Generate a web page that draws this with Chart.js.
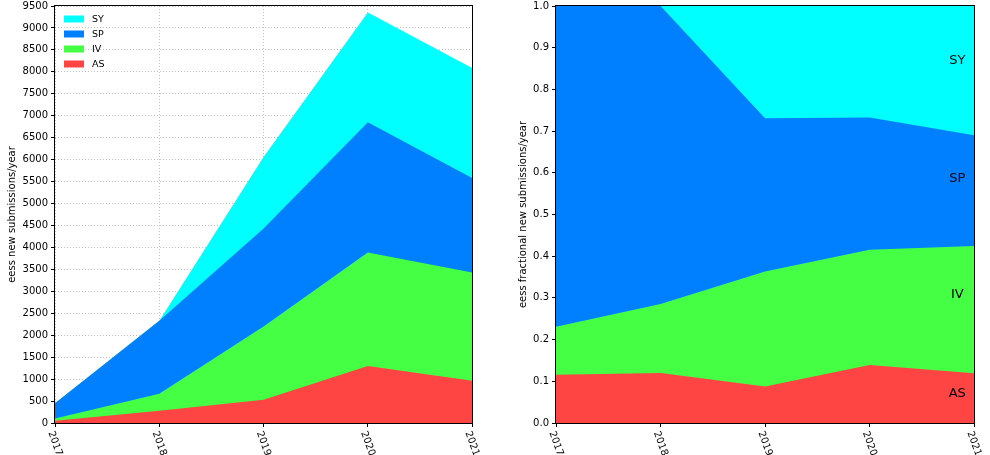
<!DOCTYPE html>
<html><head><meta charset="utf-8">
<script src="https://cdn.jsdelivr.net/npm/chart.js@4.4.1/dist/chart.umd.min.js"></script>
<style>
html,body{margin:0;padding:0;background:#fff;width:990px;height:455px;overflow:hidden}
#c1{position:absolute;left:0;top:0}
#c2{position:absolute;left:495px;top:0}
</style></head><body>
<canvas id="c1" width="495" height="455"></canvas>
<canvas id="c2" width="495" height="455"></canvas>
<script>
// ---- data ----
const years = ['2017', '2018', '2019', '2020', '2021'];
const seriesNames = ['AS', 'IV', 'SP', 'SY'];
const AS = [52, 280, 530, 1300, 965];
const IV = [52, 385, 1670, 2585, 2465];
const SP = [346, 1665, 2230, 2965, 2150];
const SY = [0, 0, 1630, 2500, 2505];
const leftYMax = 9500;
const leftYStep = 500;
const rightYMax = 1.0;
const rightYStep = 0.1;
const leftYTitle = 'eess new submissions/year';
const rightYTitle = 'eess fractional new submissions/year';
// in-chart band labels on the right panel (data coordinates: x index, y fraction)
const bandLabelX = [3.84, 3.84, 3.84, 3.84];
const bandLabelY = [0.070, 0.307, 0.585, 0.868];

const seriesValues = [AS, IV, SP, SY];
const seriesColors = ['#ff4444', '#44ff44', '#0080ff', '#00ffff'];
const totals = years.map((_, i) => seriesValues.reduce((s, arr) => s + arr[i], 0));
const fractions = seriesValues.map(arr => arr.map((v, i) => v / totals[i]));

Chart.defaults.font.family = "'DejaVu Sans', sans-serif";
Chart.defaults.font.size = 10;
Chart.defaults.color = '#000';

const FONT = "'DejaVu Sans', sans-serif";

function makeDatasets(values) {
  return seriesNames.map((name, k) => ({
    label: name,
    data: values[k],
    backgroundColor: seriesColors[k],
    borderColor: seriesColors[k],
    borderWidth: 0,
    pointRadius: 0,
    pointHoverRadius: 0,
    fill: 'origin',
    tension: 0
  }));
}

const framePlugin = {
  id: 'frame',
  afterDraw(chart) {
    const {ctx, chartArea: a} = chart;
    ctx.save();
    ctx.strokeStyle = '#000';
    ctx.lineWidth = 1;
    ctx.strokeRect(Math.round(a.left) - 0.5, Math.round(a.top) - 0.5,
      Math.round(a.right - a.left) + 1, Math.round(a.bottom - a.top) + 1);
    ctx.restore();
  }
};

const xLabelPlugin = {
  id: 'xlabels',
  afterDraw(chart) {
    const {ctx, chartArea: a} = chart;
    const xs = chart.scales.x;
    const th = 70 * Math.PI / 180;
    ctx.save();
    ctx.font = '10px ' + FONT;
    ctx.fillStyle = '#000';
    ctx.textAlign = 'center';
    ctx.textBaseline = 'middle';
    years.forEach((lab, i) => {
      const x = xs.getPixelForValue(i);
      const w = ctx.measureText(lab).width;
      const h = 10;
      const bh = w * Math.sin(th) + h * Math.cos(th);
      const cy = a.bottom + 3.5 + 3.5 + bh / 2;
      ctx.save();
      ctx.translate(x, cy);
      ctx.rotate(th);
      ctx.fillText(lab, 0, 0);
      ctx.restore();
    });
    ctx.restore();
  }
};

const legendPlugin = {
  id: 'mylegend',
  afterDraw(chart) {
    if (!chart.options.plugins.mylegend || !chart.options.plugins.mylegend.show) return;
    const {ctx, chartArea: a} = chart;
    ctx.save();
    ctx.font = '9.5px ' + FONT;
    ctx.textAlign = 'left';
    ctx.textBaseline = 'middle';
    const ds = chart.data.datasets.slice().reverse();
    ds.forEach((d, i) => {
      const cy = a.top + 13 + i * 15;
      ctx.fillStyle = d.backgroundColor;
      ctx.fillRect(a.left + 9, cy - 3.5, 20, 7);
      ctx.fillStyle = '#000';
      ctx.fillText(d.label, a.left + 37, cy + 0.5);
    });
    ctx.restore();
  }
};

const bandLabelPlugin = {
  id: 'bandlabels',
  afterDraw(chart) {
    if (!chart.options.plugins.bandlabels || !chart.options.plugins.bandlabels.show) return;
    const {ctx} = chart;
    const xs = chart.scales.x, ys = chart.scales.y;
    ctx.save();
    ctx.font = '13px ' + FONT;
    ctx.fillStyle = '#000';
    ctx.textAlign = 'center';
    ctx.textBaseline = 'middle';
    seriesNames.forEach((name, k) => {
      ctx.fillText(name, xs.getPixelForValue(bandLabelX[k]), ys.getPixelForValue(bandLabelY[k]));
    });
    ctx.restore();
  }
};

function makeChart(el, values, opts) {
  return new Chart(document.getElementById(el), {
    type: 'line',
    data: {labels: years, datasets: makeDatasets(values)},
    options: {
      responsive: false,
      animation: false,
      events: [],
      layout: {padding: {top: 6, right: opts.padRight, left: 0, bottom: 0}},
      plugins: {
        legend: {display: false},
        tooltip: {enabled: false},
        filler: {propagate: false},
        mylegend: {show: opts.legend},
        bandlabels: {show: opts.bandLabels}
      },
      scales: {
        x: {
          type: 'category',
          offset: false,
          z: opts.grid ? 1 : 0,
          ticks: {display: false},
          grid: {
            display: true,
            drawOnChartArea: opts.grid,
            color: '#b0b0b0',
            lineWidth: 0.8,
            drawTicks: true,
            tickLength: 4,
            tickColor: '#000',
            tickWidth: 1,
            tickBorderDash: []
          },
          border: {display: false, dash: [1, 2]},
          afterFit(s) { s.height = 32; s.paddingLeft = 0; s.paddingRight = 0; }
        },
        y: {
          type: 'linear',
          stacked: true,
          min: 0,
          max: opts.yMax,
          z: opts.grid ? 1 : 0,
          ticks: {
            stepSize: opts.yStep,
            autoSkip: false,
            padding: 3,
            color: '#000',
            font: {size: 10, family: FONT},
            callback: opts.fmt
          },
          grid: {
            display: true,
            drawOnChartArea: opts.grid,
            color: '#b0b0b0',
            lineWidth: 0.8,
            drawTicks: true,
            tickLength: 4,
            tickColor: '#000',
            tickWidth: 1,
            tickBorderDash: []
          },
          border: {display: false, dash: [1, 2]},
          title: {
            display: true,
            text: opts.title,
            color: '#000',
            font: {size: 10, family: FONT},
            padding: {top: opts.titlePad, bottom: 0}
          },
          afterFit(s) { s.width = opts.yWidth; s.paddingTop = 0; s.paddingBottom = 0; }
        }
      }
    },
    plugins: [xLabelPlugin, framePlugin, legendPlugin, bandLabelPlugin]
  });
}

makeChart('c1', seriesValues, {
  padRight: 23, yMax: leftYMax, yStep: leftYStep, grid: true, legend: true, bandLabels: false,
  title: leftYTitle, titlePad: 6, yWidth: 55, fmt: v => String(v)
});
makeChart('c2', fractions, {
  padRight: 16, yMax: rightYMax, yStep: rightYStep, grid: false, legend: false, bandLabels: true,
  title: rightYTitle, titlePad: 22, yWidth: 61, fmt: v => Number(v).toFixed(1)
});
</script>
</body></html>
